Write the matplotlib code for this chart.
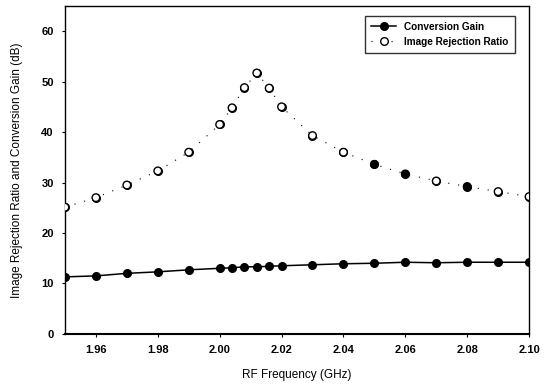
import numpy as np
import matplotlib
matplotlib.use('Agg')
import matplotlib.pyplot as plt

plt.rcParams['font.family'] = ['Liberation Sans', 'DejaVu Sans']

# data
freq = [1.95, 1.96, 1.97, 1.98, 1.99, 2.00, 2.004, 2.008, 2.012, 2.016, 2.02,
        2.03, 2.04, 2.05, 2.06, 2.07, 2.08, 2.09, 2.10]
gain = [11.3, 11.5, 12.0, 12.3, 12.7, 13.0, 13.1, 13.3, 13.3, 13.4, 13.5,
        13.7, 13.9, 14.0, 14.2, 14.1, 14.2, 14.2, 14.2]
irr = [25.1, 27.0, 29.5, 32.3, 36.0, 41.5, 44.8, 48.8, 51.7, 48.7, 45.0,
       39.3, 36.0, 33.6, 31.7, 30.3, 29.2, 28.2, 27.2]
irr_filled = [2.05, 2.06, 2.08]  # points that look filled in the scan

xticks = [1.96, 1.98, 2.00, 2.02, 2.04, 2.06, 2.08, 2.10]
yticks = [0, 10, 20, 30, 40, 50, 60]

fig = plt.figure(figsize=(5.46, 3.91), dpi=100)
ax = fig.add_axes([0.119, 0.146, 0.850, 0.839])

ax.plot(freq, gain, '-o', color='black', lw=1.1, ms=5.5,
        label='Conversion Gain')
face = ['black' if f in irr_filled else 'white' for f in freq]
ax.plot(freq, irr, ls=(0, (1, 8)), color='black', lw=0.8, label='Image Rejection Ratio',
        marker='o', ms=5.5, mfc='white', mec='black', mew=1.0)
ax.scatter(freq, irr, s=30, c=face, edgecolors='black', linewidths=1.0, zorder=3)

ax.set_xlim(1.95, 2.10)
ax.set_ylim(0, 65)
ax.set_xticks(xticks)
ax.set_xticklabels(['%.2f' % t for t in xticks], fontweight='bold', fontsize=8)
ax.set_yticks(yticks)
ax.set_yticklabels([str(t) for t in yticks], fontweight='bold', fontsize=8)
ax.tick_params(length=2, width=0.8, pad=6)

ax.set_xlabel('RF Frequency (GHz)', fontsize=8.5, labelpad=10)
ax.set_ylabel('Image Rejection Ratio and Conversion Gain (dB)', fontsize=8.5, labelpad=13)

for s in ax.spines.values():
    s.set_linewidth(1.0)
ax.spines['bottom'].set_linewidth(1.5)

leg = ax.legend(loc='upper right', frameon=True, fancybox=False,
                edgecolor='black', borderpad=0.6, handlelength=2.5,
                bbox_to_anchor=(0.98, 0.985), prop={'weight': 'bold', 'size': 7.2})
leg.get_frame().set_linewidth(1.0)

plt.savefig('out.png')
